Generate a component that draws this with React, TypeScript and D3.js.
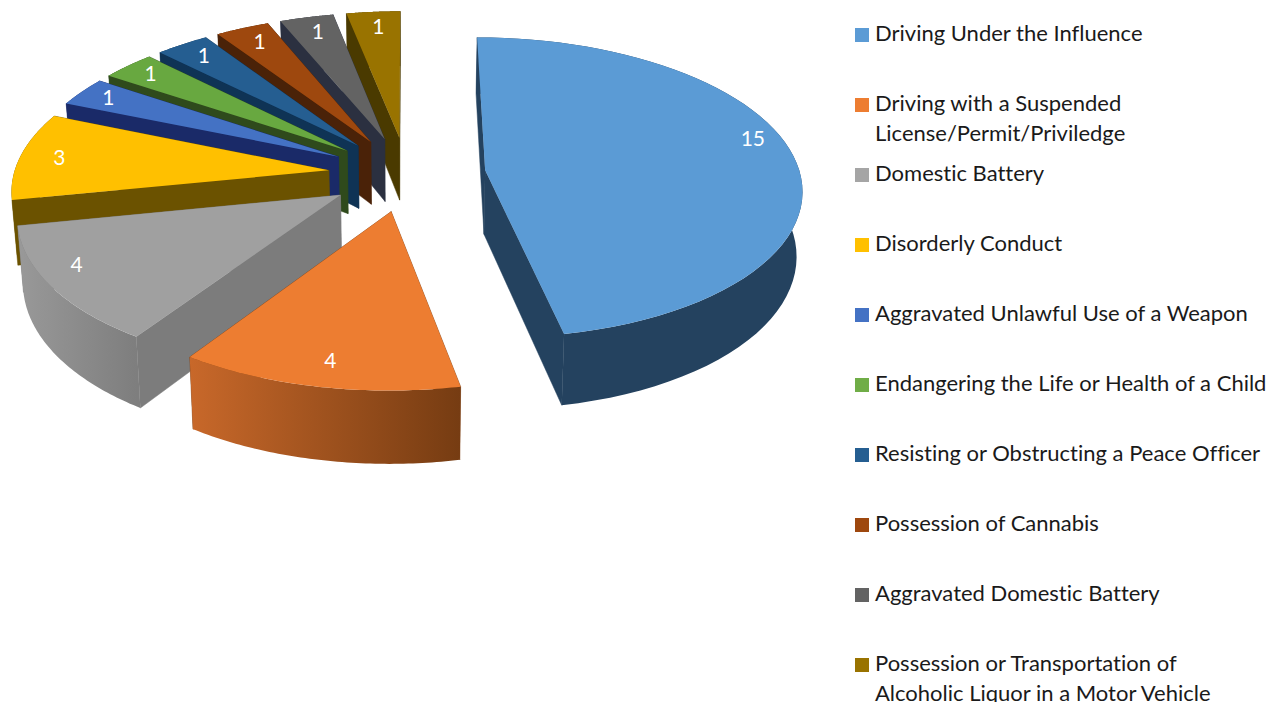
import React from "react";
import * as d3 from "d3";

const categories = [
  ["Driving Under the Influence"],
  ["Driving with a Suspended", "License/Permit/Priviledge"],
  ["Domestic Battery"],
  ["Disorderly Conduct"],
  ["Aggravated Unlawful Use of a Weapon"],
  ["Endangering the Life or Health of a Child"],
  ["Resisting or Obstructing a Peace Officer"],
  ["Possession of Cannabis"],
  ["Aggravated Domestic Battery"],
  ["Possession or Transportation of", "Alcoholic Liquor in a Motor Vehicle"],
];
const values = [15, 4, 4, 3, 1, 1, 1, 1, 1, 1];
const topColors = ["#5B9BD5", "#ED7D31", "#A0A0A0", "#FFC000", "#4472C4", "#68A840", "#255E91", "#9E480E", "#636363", "#997300"];
const legendColors = ["#5B9BD5", "#ED7D31", "#A5A5A5", "#FFC000", "#4472C4", "#70AD47", "#255E91", "#9E480E", "#636363", "#997300"];
const sideColors = ["#24425F", "#7F4014", "#7C7C7C", "#6B5200", "#1A2A68", "#2F4A1C", "#0F3355", "#4A2208", "#2B3040", "#4A3A00"];
const rimFrom = ["#24425F", "#C8682A", "#999999", "#6B5200", "#1A2A68", "#2F4A1C", "#0F3355", "#4A2208", "#2B3040", "#4A3A00"];
const rimTo = ["#24425F", "#763C12", "#7E7E7E", "#6B5200", "#1A2A68", "#2F4A1C", "#0F3355", "#4A2208", "#2B3040", "#4A3A00"];
const labelAngles = [76, null, 241, null, null, null, null, null, null, null];
const labelRadii = [0.9, 0.87, 0.89, 0.88, 0.9, 0.9, 0.88, 0.87, 0.87, 0.87];

const cx = 407, cy = 174, Rx = 315, Ry = 149, k = 0.115, explode = 0.25, bottomShrink = 0.985;
const depthBase = 64, depthSlope = 7.5;

type Pt = [number, number];
function project(a: number, r: number, mid: number, bottom = false): Pt {
  const X = r * Math.sin(a) + explode * Math.sin(mid);
  const Y = -r * Math.cos(a) - explode * Math.cos(mid);
  const s = 1 / (1 - k * Y);
  const x = cx + Rx * X * s * (bottom ? bottomShrink : 1);
  const y = cy + Ry * Y * s + (bottom ? depthBase + depthSlope * Y : 0);
  return [x, y];
}

const line = d3.line<Pt>().x((d) => d[0]).y((d) => d[1]);
const arcs = d3.pie<number>().sort(null).value((d) => d)(values);
const legendY = d3.scaleLinear().domain([0, 9]).range([34, 664]);

function Slice({ i }: { i: number }) {
  const { startAngle: a0, endAngle: a1 } = arcs[i];
  const mid = (a0 + a1) / 2;
  const angles = d3.range(0, 61).map((t) => a0 + ((a1 - a0) * t) / 60);
  const rimTop = angles.map((a) => project(a, 1, mid));
  const rimBot = angles.map((a) => project(a, 1, mid, true));
  const apexT = project(0, 0, mid);
  const apexB = project(0, 0, mid, true);
  const topFace = [apexT, ...rimTop];
  const walls = [
    { pts: [apexT, rimTop[0], rimBot[0], apexB], fill: sideColors[i], y: (apexT[1] + rimTop[0][1]) / 2 },
    { pts: [apexT, rimTop[60], rimBot[60], apexB], fill: sideColors[i], y: (apexT[1] + rimTop[60][1]) / 2 },
    { pts: [...rimTop, ...rimBot.slice().reverse()], fill: `url(#rim${i})`, y: rimTop[30][1] },
  ].sort((p, q) => p.y - q.y);
  const xs = d3.extent(rimTop, (d) => d[0]) as [number, number];
  return (
    <g>
      <defs>
        <linearGradient id={`rim${i}`} gradientUnits="userSpaceOnUse" x1={xs[0]} x2={xs[1]} y1={0} y2={0}>
          <stop offset="0" stopColor={rimFrom[i]} />
          <stop offset="1" stopColor={rimTo[i]} />
        </linearGradient>
      </defs>
      {walls.map((w, j) => (
        <path key={j} d={line(w.pts) + "Z"} fill={w.fill} stroke={w.fill.startsWith("#") ? w.fill : "none"} strokeWidth={0.5} />
      ))}
      <path d={line(topFace) + "Z"} fill={topColors[i]} />
    </g>
  );
}

export default function App() {
  const order = d3.range(values.length).reverse();
  return (
    <svg width={1280} height={702} style={{ position: "absolute", left: 0, top: 0, display: "block", background: "#fff", fontVariantLigatures: "none" }}>
      {order.map((i) => (
        <Slice key={i} i={i} />
      ))}
      {values.map((v, i) => {
        const mid = (arcs[i].startAngle + arcs[i].endAngle) / 2;
        const la = labelAngles[i] == null ? mid : ((labelAngles[i] as number) * Math.PI) / 180;
        const [x, y] = project(la, labelRadii[i], mid);
        return (
          <text key={i} x={x + 2} y={y + 7} textAnchor="middle" fontFamily="Lato" fontSize={21} fill="#fff">
            {v}
          </text>
        );
      })}
      {categories.map((lines, i) => {
        const y = legendY(i);
        return (
          <g key={i}>
            <rect x={855} y={y - 6} width={14} height={14} fill={legendColors[i]} />
            {lines.map((t, j) => (
              <text key={j} x={875} y={y + 7 + j * 30} fontFamily="Lato" fontSize={22} fill="#1a1a1a">
                {t}
              </text>
            ))}
          </g>
        );
      })}
    </svg>
  );
}
